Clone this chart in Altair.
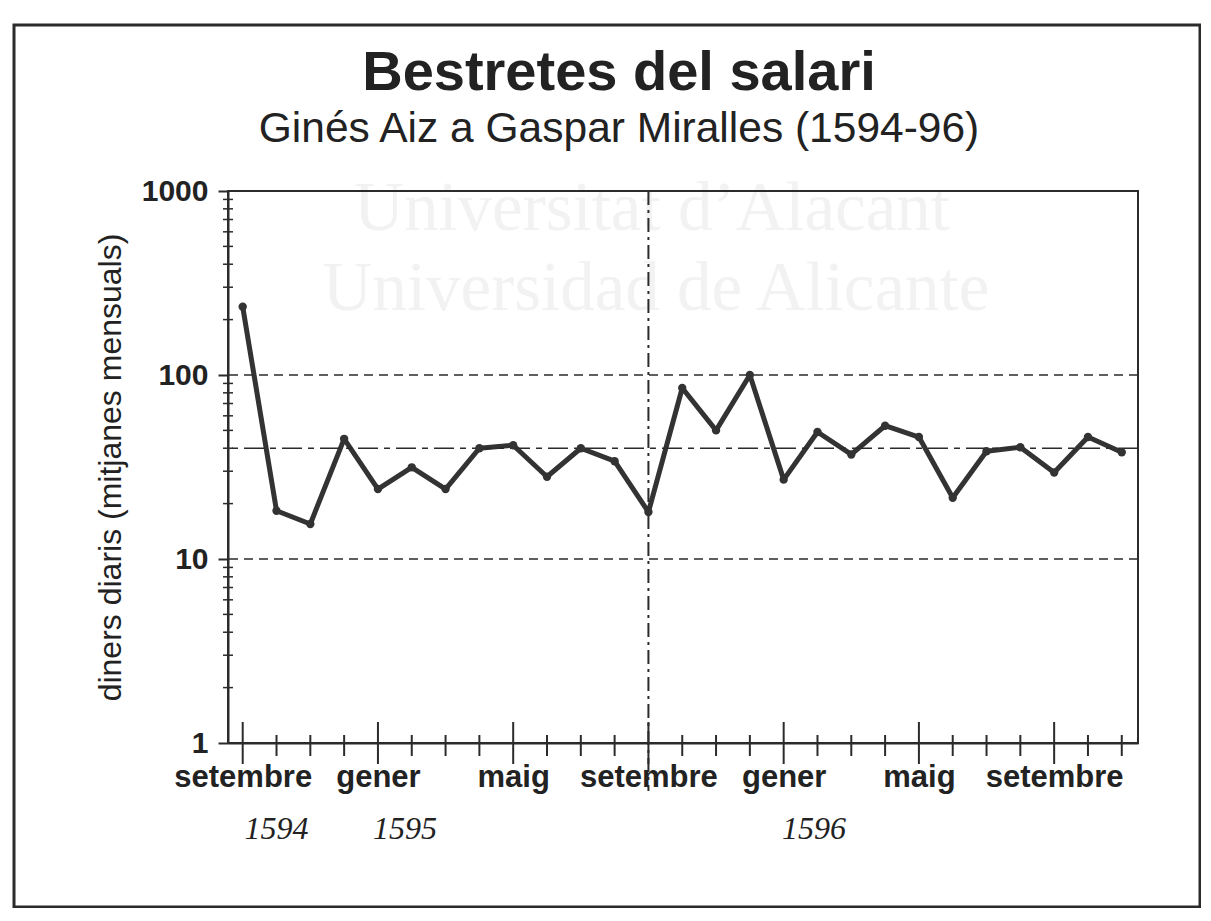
import altair as alt
import pandas as pd

# ---------------- data ----------------
month_idx = list(range(27))  # setembre 1594 ... novembre 1596
diners = [235, 18.3, 15.5, 45, 24, 31.5, 24, 40, 41.5, 28, 40, 34, 18,
          85, 50, 100, 27, 49, 37, 53, 46, 21.5, 38.5, 40.5, 29.5, 46, 38]

label_idx = [0, 4, 8, 12, 16, 20, 24]
label_text = ["setembre", "gener", "maig", "setembre", "gener", "maig", "setembre"]

year_text = ["1594", "1595", "1596"]
year_pos = [1.0, 4.8, 16.9]

y_major = [1, 10, 100, 1000]
grid_values = [10, 100]
y_minor = [2, 3, 4, 5, 6, 7, 8, 9,
           20, 30, 40, 50, 60, 70, 80, 90,
           200, 300, 400, 500, 600, 700, 800, 900]
mean_value = [40]
divider_idx = [12]

title_text = "Bestretes del salari"
subtitle_text = "Ginés Aiz a Gaspar Miralles (1594-96)"
y_title = "diners diaris (mitjanes mensuals)"
watermark = ["Universitat d\u2019Alacant", "Universidad de Alicante"]

# ---------------- layout ----------------
W, H = 910, 552
INK = "#2b2b2b"
SANS = "Liberation Sans"
SERIF = "Liberation Serif"

df = pd.DataFrame({"mes": month_idx, "diners": diners})
ticks_df = pd.DataFrame({"mes": month_idx,
                         "major": [m in label_idx for m in month_idx]})
years_df = pd.DataFrame({"mes": year_pos, "txt": year_text})
minor_df = pd.DataFrame({"diners": y_minor})
grid_df = pd.DataFrame({"diners": grid_values})
mean_df = pd.DataFrame({"diners": mean_value})
div_df = pd.DataFrame({"mes": divider_idx})
one = pd.DataFrame({"k": [0]})

x_scale = alt.Scale(domain=[-0.435, 26.48], nice=False, zero=False)
y_scale = alt.Scale(type="log", domain=[1, 1000], nice=False)

label_expr = "".join(
    f"datum.value == {i} ? '{t}' : " for i, t in zip(label_idx, label_text)
) + "''"

x_axis = alt.Axis(values=label_idx, labelExpr=label_expr, labelFont=SANS,
                  labelFontSize=31, labelFontWeight="bold", labelColor="#222",
                  ticks=False, tickSize=0, labelPadding=43,
                  labelBaseline="alphabetic", labelFlush=False,
                  labelOverlap=False, grid=False, domainColor=INK,
                  domainWidth=2, title=None)
y_axis = alt.Axis(values=y_major, format="d", labelFont=SANS, labelFontSize=30,
                  labelFontWeight="bold", labelColor="#222", tickSize=10,
                  tickWidth=2, tickColor=INK, labelPadding=10, grid=False,
                  domainColor=INK, domainWidth=2, labelOverlap=False,
                  titleFont=SANS, titleFontSize=32, titleFontWeight="normal",
                  titleColor="#222", titlePadding=14)

wm = alt.Chart(pd.DataFrame({"t": watermark, "xx": [424, 428], "yy": [39, 119]})).mark_text(
    font=SERIF, fontSize=69, color="#f2f2f2", align="center", baseline="alphabetic"
).encode(x=alt.X("xx:Q", scale=None), y=alt.Y("yy:Q", scale=None), text="t:N")

frame = alt.Chart(one).mark_rect(fillOpacity=0, stroke=INK, strokeWidth=3).encode(
    x=alt.value(-214), x2=alt.value(972), y=alt.value(-166), y2=alt.value(716))

plot_box = alt.Chart(one).mark_rect(fillOpacity=0, stroke=INK, strokeWidth=2).encode(
    x=alt.value(0), x2=alt.value(W), y=alt.value(0), y2=alt.value(H))

title = alt.Chart(one).mark_text(font=SANS, fontSize=56, fontWeight="bold",
                                 color="#222", align="center",
                                 baseline="alphabetic", text=title_text).encode(
    x=alt.value(391), y=alt.value(-101))
subtitle = alt.Chart(one).mark_text(font=SANS, fontSize=42.5, color="#222",
                                    align="center", baseline="alphabetic",
                                    text=subtitle_text).encode(
    x=alt.value(391), y=alt.value(-49))

grid = alt.Chart(grid_df).mark_rule(color=INK, strokeWidth=1.6,
                                    strokeDash=[9, 6]).encode(
    y=alt.Y("diners:Q", scale=y_scale))
mean_rule = alt.Chart(mean_df).mark_rule(color=INK, strokeWidth=1.6,
                                         strokeDash=[20, 6, 6, 6]).encode(
    y=alt.Y("diners:Q", scale=y_scale))
div_rule = alt.Chart(div_df).mark_rule(color=INK, strokeWidth=2,
                                       strokeDash=[14, 5, 3, 5]).encode(
    x=alt.X("mes:Q", scale=x_scale), y=alt.value(0), y2=alt.value(H + 48))

minor_y = alt.Chart(minor_df).mark_rule(color=INK, strokeWidth=1.5).encode(
    y=alt.Y("diners:Q", scale=y_scale), x=alt.value(-5), x2=alt.value(5))

tick_minor = alt.Chart(ticks_df).transform_filter("!datum.major").mark_rule(
    color=INK, strokeWidth=2).encode(
    x=alt.X("mes:Q", scale=x_scale), y=alt.value(H - 8), y2=alt.value(H + 13))
tick_major = alt.Chart(ticks_df).transform_filter("datum.major").mark_rule(
    color=INK, strokeWidth=2).encode(
    x=alt.X("mes:Q", scale=x_scale), y=alt.value(H - 21), y2=alt.value(H + 21))

years = alt.Chart(years_df).mark_text(font=SERIF, fontSize=32, fontStyle="italic",
                                      color="#222", align="center",
                                      baseline="alphabetic").encode(
    x=alt.X("mes:Q", scale=x_scale), y=alt.value(H + 96), text="txt:N")

line = alt.Chart(df).mark_line(color="#333333", strokeWidth=5,
                               strokeJoin="round").encode(
    x=alt.X("mes:Q", scale=x_scale, axis=x_axis),
    y=alt.Y("diners:Q", scale=y_scale, axis=y_axis, title=y_title))
pts = alt.Chart(df).mark_point(filled=True, size=70, color="#333333", opacity=1).encode(
    x=alt.X("mes:Q", scale=x_scale), y=alt.Y("diners:Q", scale=y_scale))

chart = alt.layer(
    line, wm, frame, plot_box, title, subtitle, grid, mean_rule, div_rule,
    minor_y, tick_minor, tick_major, years, pts
).properties(
    width=W, height=H,
    autosize=alt.AutoSizeParams(type="none"),
    padding={"left": 220, "top": 183, "right": 63, "bottom": 165},
).configure_view(stroke=None).configure(background="white")

chart.save("out.html", embed_options={"renderer": "svg", "actions": False})
